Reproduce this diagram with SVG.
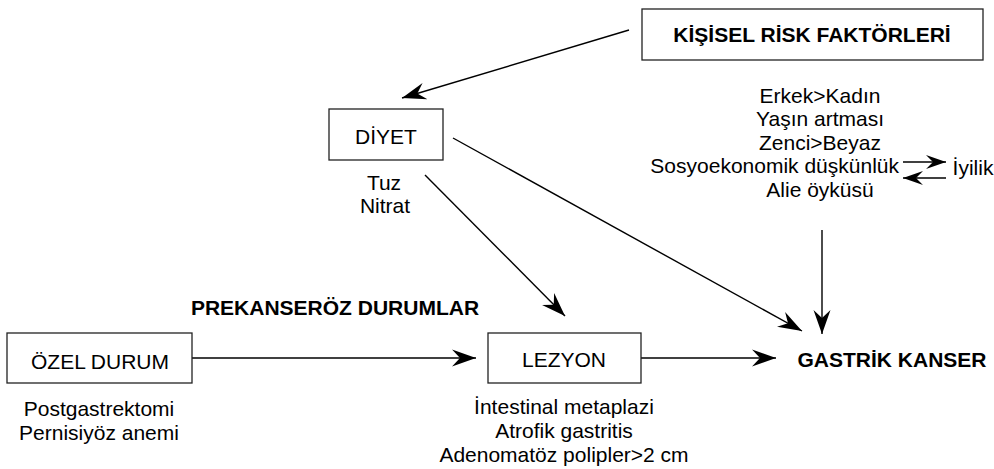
<svg xmlns="http://www.w3.org/2000/svg" width="994" height="469" viewBox="0 0 994 469">
<defs>
<style>
.box{fill:#fff;stroke:#222;stroke-width:1.3}
.t{font-family:"Liberation Sans",Arial,sans-serif;font-size:21px;fill:#000;text-anchor:middle}
.b{font-weight:bold}
.ln{stroke:#000;stroke-width:1.4;fill:none}
.arr{marker-end:url(#ah)}
.arr2{marker-end:url(#ah2)}
</style>
<marker id="ah" markerUnits="userSpaceOnUse" markerWidth="26" markerHeight="20" viewBox="-24 -10 26 20" refX="0" refY="0" orient="auto">
<path d="M0,0 L-24,-8.5 L-16,0 L-24,8.5 Z" fill="#000"/>
</marker>
<marker id="ah2" markerUnits="userSpaceOnUse" markerWidth="22" markerHeight="16" viewBox="-20 -8 22 16" refX="0" refY="0" orient="auto">
<path d="M0,0 L-20,-7 L-13,0 L-20,7 Z" fill="#000"/>
</marker>
</defs>
<rect width="994" height="469" fill="#fff"/>

<g id="connectors">
<line class="ln arr" x1="629" y1="30" x2="402" y2="98"/>
<line class="ln arr" x1="453" y1="138" x2="802" y2="331"/>
<line class="ln arr" x1="425" y1="175" x2="565" y2="316"/>
<line class="ln arr" x1="822" y1="230" x2="822" y2="334"/>
<line class="ln arr" x1="192" y1="358" x2="476" y2="358"/>
<line class="ln arr" x1="641" y1="358" x2="776" y2="358"/>
<line class="ln arr2" x1="903" y1="162" x2="946" y2="162"/>
<line class="ln arr2" x1="946" y1="178" x2="903" y2="178"/>
</g>

<g id="kisisel">
<rect class="box" x="642" y="9" width="341" height="51"/>
<text class="t b" x="812" y="42">KİŞİSEL RİSK FAKTÖRLERİ</text>
</g>

<g id="risk-list">
<text class="t" x="820" y="103">Erkek&gt;Kadın</text>
<text class="t" x="820" y="126">Yaşın artması</text>
<text class="t" x="820" y="149.5">Zenci&gt;Beyaz</text>
<text class="t" x="899" y="173" style="text-anchor:end">Sosyoekonomik düşkünlük</text>
<text class="t" x="820" y="196.5">Alie öyküsü</text>
<text class="t" x="973" y="175">İyilik</text>
</g>

<g id="diyet">
<rect class="box" x="329" y="109" width="114" height="51"/>
<text class="t" x="386" y="144">DİYET</text>
<text class="t" x="384" y="190">Tuz</text>
<text class="t" x="385" y="213">Nitrat</text>
</g>

<g id="prekanseroz">
<text class="t b" x="335" y="315">PREKANSERÖZ DURUMLAR</text>
</g>

<g id="ozel-durum">
<rect class="box" x="7" y="333" width="185" height="50"/>
<text class="t" x="100" y="369">ÖZEL DURUM</text>
<text class="t" x="99" y="416">Postgastrektomi</text>
<text class="t" x="99" y="440">Pernisiyöz anemi</text>
</g>

<g id="lezyon">
<rect class="box" x="488" y="333" width="153" height="50"/>
<text class="t" x="564" y="367">LEZYON</text>
<text class="t" x="564" y="414">İntestinal metaplazi</text>
<text class="t" x="564" y="438">Atrofik gastritis</text>
<text class="t" x="564" y="462">Adenomatöz polipler&gt;2 cm</text>
</g>

<g id="gastrik">
<text class="t b" x="892" y="367">GASTRİK KANSER</text>
</g>
</svg>
